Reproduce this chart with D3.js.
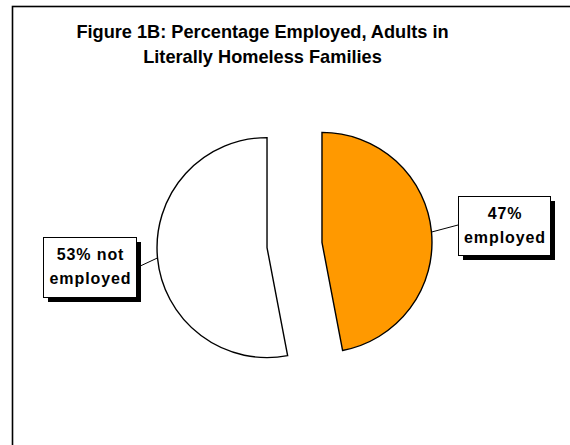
<!DOCTYPE html>
<html>
<head>
<meta charset="utf-8">
<script src="https://cdn.jsdelivr.net/npm/d3@7"></script>
<style>
  html, body { margin: 0; padding: 0; background: #fff; }
  svg { display: block; }
  text { font-family: "Liberation Sans", Arial, sans-serif; font-weight: bold; fill: #000; }
</style>
</head>
<body>
<svg id="chart" width="570" height="445"></svg>
<script>
// ---- data ----
const categories = ["employed", "not employed"];
const values = [47, 53];
const labelLines = [["47%", "employed"], ["53% not", "employed"]];
const colors = ["#FF9900", "#FFFFFF"];
const titleLines = ["Figure 1B: Percentage Employed, Adults in", "Literally Homeless Families"];

// ---- layout ----
const W = 570, H = 445;
const cx = 294.5, cy = 245, R = 110, explode = 27.6;
const svg = d3.select("#chart");

// frame
svg.append("rect")
  .attr("x", 12.5).attr("y", 6.5)
  .attr("width", 600).attr("height", 500)
  .attr("fill", "#fff").attr("stroke", "#000").attr("stroke-width", 1.6);

// title
svg.append("text")
  .attr("x", 262.5).attr("y", 38)
  .attr("text-anchor", "middle")
  .attr("font-size", 18.2)
  .selectAll("tspan").data(titleLines).join("tspan")
  .attr("x", 262.5).attr("dy", (d, i) => i ? 24.5 : 0)
  .text(d => d);

const pie = d3.pie().sort(null).startAngle(0).endAngle(2 * Math.PI);
const arcs = pie(values);
const arcGen = d3.arc().innerRadius(0).outerRadius(R);

const offs = arcs.map(a => {
  const m = (a.startAngle + a.endAngle) / 2;
  return [explode * Math.sin(m), -explode * Math.cos(m)];
});

// slices
svg.append("g").selectAll("path").data(arcs).join("path")
  .attr("transform", (d, i) => `translate(${cx + offs[i][0]},${cy + offs[i][1]})`)
  .attr("d", arcGen)
  .attr("fill", (d, i) => colors[i])
  .attr("stroke", "#000").attr("stroke-width", 1.4)
  .attr("stroke-linejoin", "miter");

// label boxes
const boxes = [
  { x: 458, y: 196, w: 92, h: 59, anchor: [458, 225] },
  { x: 43, y: 237, w: 93, h: 60, anchor: [136, 268] }
];

arcs.forEach((a, i) => {
  const m = (a.startAngle + a.endAngle) / 2;
  const px = cx + offs[i][0] + R * Math.sin(m);
  const py = cy + offs[i][1] - R * Math.cos(m);
  const b = boxes[i];
  svg.append("line")
    .attr("x1", px).attr("y1", py)
    .attr("x2", b.anchor[0]).attr("y2", b.anchor[1])
    .attr("stroke", "#000").attr("stroke-width", 1);
  // shadow
  svg.append("rect")
    .attr("x", b.x + 5).attr("y", b.y + 5)
    .attr("width", b.w).attr("height", b.h)
    .attr("fill", "#000");
  svg.append("rect")
    .attr("x", b.x + 0.5).attr("y", b.y + 0.5)
    .attr("width", b.w).attr("height", b.h)
    .attr("fill", "#fff").attr("stroke", "#000").attr("stroke-width", 1);
  const tx = b.x + b.w / 2 + 1;
  svg.append("text")
    .attr("x", tx).attr("y", b.y + 23)
    .attr("text-anchor", "middle")
    .attr("font-size", 16)
    .attr("letter-spacing", 0.9)
    .selectAll("tspan").data(labelLines[i]).join("tspan")
    .attr("x", tx).attr("dy", (d, j) => j ? 24 : 0)
    .text(d => d);
});
</script>
</body>
</html>
